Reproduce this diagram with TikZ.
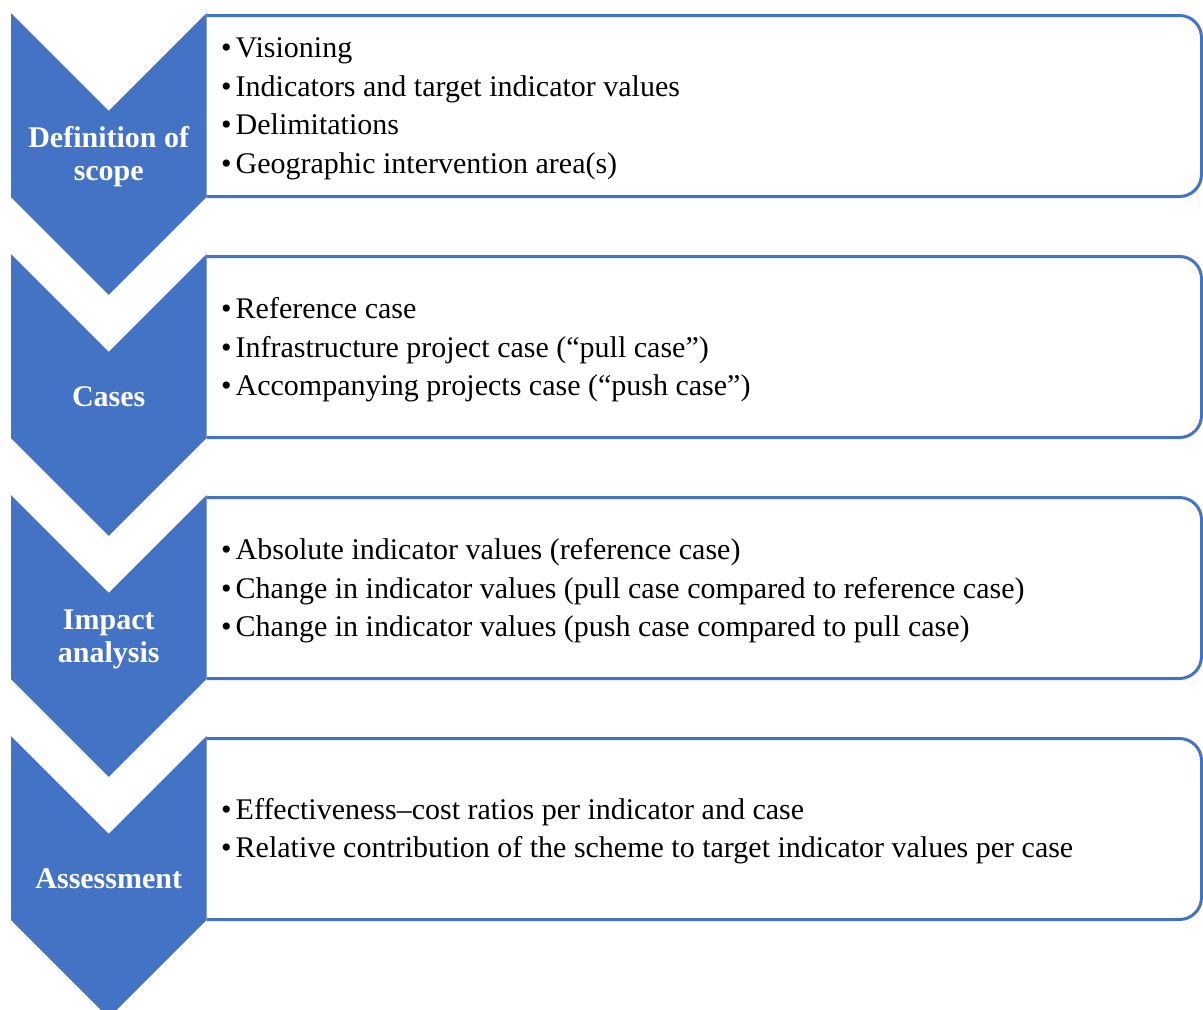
\documentclass[tikz,border=0pt]{standalone}
\usepackage{fontspec}
\setmainfont{Liberation Serif}
\definecolor{accent}{HTML}{4472C4}
\tikzset{
  chev/.style={fill=accent, draw=none},
  boxline/.style={draw=accent, line width=3pt, fill=white, rounded corners=22pt},
  label/.style={text=white, font=\fontsize{30}{33}\selectfont\bfseries, align=center, inner sep=0pt},
  items/.style={text=black, font=\fontsize{30}{38.5}\selectfont, align=left, anchor=west, inner sep=0pt},
}
\newcommand{\itm}{•\hspace{4pt}}
\begin{document}
\begin{tikzpicture}[x=1pt,y=-1pt]
\useasboundingbox (0,0) rectangle (1203,1010);
\clip (0,0) rectangle (1203,1010);
\foreach \k in {0,1,2,3}{
  \pgfmathsetmacro{\t}{13+241*\k}
  \draw[boxline] (206.5,\t+2.5) -- (1201.5,\t+2.5) -- (1201.5,\t+183.5) -- (206.5,\t+183.5);
  \fill[chev] (11,\t) -- (108.75,\t+97.75) -- (206.5,\t) -- (206.5,\t+184) -- (108.75,\t+281.75) -- (11,\t+184) -- cycle;
}
\node[label] (l1) at (108.75,156.5) {Definition of\\scope};
\node[label] (l2) at (108.75,397) {Cases};
\node[label] (l3) at (108.75,639.5) {Impact\\analysis};
\node[label] (l4) at (108.75,879) {Assessment};

\node[items] (t1) at (221,109) {\itm Visioning\\ \itm Indicators and target indicator values\\ \itm Delimitations\\ \itm Geographic intervention area(s)};
\node[items] (t2) at (221,350) {\itm Reference case\\ \itm Infrastructure project case (“pull case”)\\ \itm Accompanying projects case (“push case”)};
\node[items] (t3) at (221,591) {\itm Absolute indicator values (reference case)\\ \itm Change in indicator values (pull case compared to reference case)\\ \itm Change in indicator values (push case compared to pull case)};
\node[items] (t4) at (221,831) {\itm Effectiveness–cost ratios per indicator and case\\ \itm Relative contribution of the scheme to target indicator values per case};
\end{tikzpicture}
\end{document}
